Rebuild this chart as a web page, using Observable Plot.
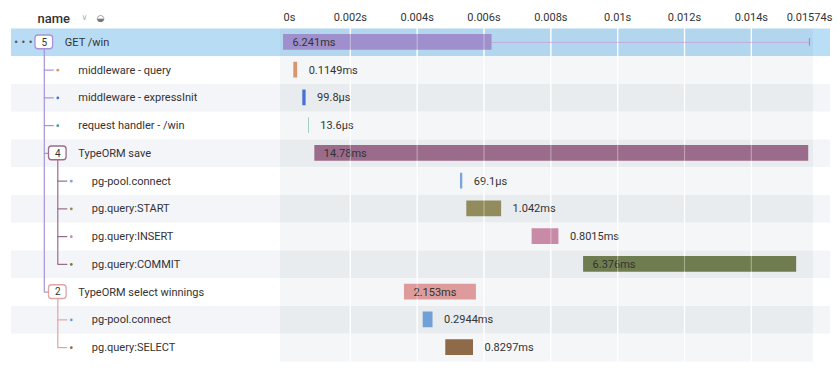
<!DOCTYPE html>
<html><head><meta charset="utf-8">
<script src="https://cdn.jsdelivr.net/npm/d3@7"></script>
<script src="https://cdn.jsdelivr.net/npm/@observablehq/plot@0.6"></script>
<style>
body{margin:0;background:#fff;}
#chart{display:flex;width:840px;height:374px;font-family:Roboto,sans-serif;}
#chart svg{display:block;flex:none;}
</style></head><body><div id="chart"></div>
<script>
// ---- data ----
const names = ["GET /win","middleware - query","middleware - expressInit","request handler - /win","TypeORM save","pg-pool.connect","pg.query:START","pg.query:INSERT","pg.query:COMMIT","TypeORM select winnings","pg-pool.connect","pg.query:SELECT"];
const depths = [0,1,1,1,1,2,2,2,2,1,2,2];
const parents = [-1,0,0,0,0,4,4,4,4,0,9,9];
const childCounts = [5,0,0,0,4,0,0,0,0,2,0,0];
const startsMs = [0,0.308,0.577,0.757,0.937,5.296,5.485,7.44,8.98,3.62,4.18,4.856];
const durationsMs = [6.241,0.1149,0.0998,0.0136,14.78,0.0691,1.042,0.8015,6.376,2.153,0.2944,0.8297];
const durationLabels = ["6.241ms","0.1149ms","99.8µs","13.6µs","14.78ms","69.1µs","1.042ms","0.8015ms","6.376ms","2.153ms","0.2944ms","0.8297ms"];
const colors = ["#9f8fcc","#d9966c","#4a73d1","#45a088","#9b6b8b","#7aa6db","#918b5e","#c98aa7","#6f7c4f","#dd9b9b","#6fa0d6","#8e6a48"];
const treeColors = ["#a892d8",null,null,null,"#9b6b8b",null,null,null,null,"#e2a4a4",null,null];
const traceEndMs = 15.74;
const tickValues = [0,2,4,6,8,10,12,14,15.74];
const tickLabels = ["0s","0.002s","0.004s","0.006s","0.008s","0.01s","0.012s","0.014s","0.01574s"];
const gridValues = [2,4,6,8,10,12,14];

// ---- derived ----
const rows = names.map((name,i)=>({id:i,name,depth:depths[i],parent:parents[i],count:childCounts[i],
  start:startsMs[i],end:startsMs[i]+durationsMs[i],dur:durationsMs[i],label:durationLabels[i],
  color:colors[i],tcolor:treeColors[i],band:i===0?0:(i%2?1:2)}));
rows.forEach(r=>{ if(r.parent>=0){ const p=rows[r.parent]; r.pdepth=p.depth; r.pcolor=p.tcolor; } });
const groups = rows.filter(r=>r.count>0);
groups.forEach(g=>{ g.last = d3.max(rows.filter(r=>r.parent===g.id), r=>r.id); });
const children = rows.filter(r=>r.parent>=0);
const leaves = rows.filter(r=>r.count===0);
const ticks = tickValues.map((v,i)=>({v,label:tickLabels[i]}));
const root = [rows[0]];

const outerFill = ["#b9dcf5","#ffffff","#f4f5f9"];
const panelFill = ["#b3d6ef","#f5f6f7","#e9ecef"];
const rightFill = ["#bbdef7","#ffffff","#f4f5f9"];

const H = 374, MT = 28, MB = 13;
const bw = (H-MT-MB)/rows.length;
const yOpt = {type:"band", domain: rows.map(r=>r.id), padding:0, round:false, axis:null};
const style = {fontFamily:"Roboto, sans-serif", fontSize:"11px", color:"#333", background:"transparent"};

const left = Plot.plot({
  width:280, height:H, marginTop:MT, marginBottom:MB, marginLeft:0, marginRight:0,
  style, x:{domain:[0,2], range:[43.8,70.8], axis:null}, y:yOpt, color:{type:"identity"},
  marks:[
    Plot.ruleY(rows,{y:"id", stroke:d=>outerFill[d.band], strokeWidth:bw, insetLeft:11}),
    Plot.text(["name"],{frameAnchor:"top-left", dx:37, dy:-15, textAnchor:"start", fontSize:13, fontWeight:500, fill:"#333"}),
    Plot.text(["∨"],{frameAnchor:"top-left", dx:81, dy:-14, fontSize:8, fill:"#aaa", fontFamily:"DejaVu Sans"}),
    Plot.text(["◒"],{frameAnchor:"top-left", dx:96, dy:-14, fontSize:9, fill:"#777", fontFamily:"DejaVu Sans"}),
    Plot.ruleX(groups,{x:"depth", y1:"id", y2:"last", stroke:"tcolor", strokeWidth:1.2, insetTop:bw/2+7, insetBottom:bw/2}),
    Plot.ruleY(children,{y:"id", x1:"pdepth", x2:"depth", stroke:"pcolor", strokeWidth:1.2, insetRight:3.5}),
    Plot.barX(groups,{x1:"depth", x2:"depth", y:"id", fill:"white", stroke:"tcolor", strokeWidth:1.3, rx:3, insetLeft:-8.8, insetRight:-8.8, insetTop:7, insetBottom:7}),
    Plot.text(groups,{x:"depth", y:"id", text:d=>String(d.count), fontSize:10, fill:"#333"}),
    Plot.dot(leaves,{x:"depth", y:"id", fill:"color", r:1.4}),
    Plot.text(root,{x:"depth", y:"id", text:()=>"• • •", dx:-21, fontSize:8, fill:"#555", fontFamily:"DejaVu Sans"}),
    Plot.text(rows,{x:"depth", y:"id", text:"name", dx:20.5, textAnchor:"start", fontSize:11, fill:"#333"})
  ]
});

const right = Plot.plot({
  width:560, height:H, marginTop:MT, marginBottom:MB, marginLeft:3, marginRight:31,
  style, x:{domain:[0,traceEndMs], axis:null}, y:yOpt, color:{type:"identity"},
  marks:[
    Plot.ruleY(rows,{y:"id", stroke:d=>panelFill[d.band], strokeWidth:bw, insetLeft:-3, insetRight:-4}),
    Plot.ruleY(rows,{y:"id", stroke:d=>rightFill[d.band], strokeWidth:bw, insetLeft:530, insetRight:-21}),
    Plot.ruleX(gridValues,{stroke:"white", strokeWidth:1.3}),
    Plot.ruleY(root,{y:"id", x1:"end", x2:()=>traceEndMs, stroke:"#c4a9df", strokeWidth:1}),
    Plot.tickX(root,{x:()=>traceEndMs, y:"id", stroke:"#a08bd4", strokeWidth:1.2, insetTop:10, insetBottom:10}),
    Plot.barX(rows,{x1:"start", x2:"end", y:"id", fill:"color", insetTop:6, insetBottom:6}),
    Plot.text(rows.filter(r=>r.dur>=1.5),{x:"start", y:"id", text:"label", dx:9, textAnchor:"start", fill:"#333", ariaLabel:"label-in"}),
    Plot.text(rows.filter(r=>r.dur<1.5),{x:"end", y:"id", text:"label", dx:11, textAnchor:"start", fill:"#333", ariaLabel:"label-out"}),
    Plot.ruleX(gridValues,{stroke:"white", strokeOpacity:0.35, strokeWidth:1.2}),
    Plot.text(ticks.slice(0,1),{x:"v", text:"label", frameAnchor:"top", dy:-15, textAnchor:"start", fill:"#333"}),
    Plot.text(ticks.slice(1),{x:"v", text:"label", frameAnchor:"top", dy:-15, textAnchor:"middle", fill:"#333"})
  ]
});

const chart = document.getElementById("chart");
chart.append(left, right);

// label background boxes
function boxes(svg, aria, opacity, h){
  svg.querySelectorAll(`g[aria-label="${aria}"] text`).forEach(t=>{
    const b = t.getBBox();
    const r = document.createElementNS("http://www.w3.org/2000/svg","rect");
    r.setAttribute("x", b.x-4); r.setAttribute("y", b.y+b.height/2-h/2);
    r.setAttribute("width", b.width+8); r.setAttribute("height", h);
    r.setAttribute("rx", 2); r.setAttribute("fill", "white"); r.setAttribute("fill-opacity", opacity);
    if (t.getAttribute("transform")) r.setAttribute("transform", t.getAttribute("transform"));
    t.parentNode.insertBefore(r, t);
  });
}
boxes(right, "label-in", 0.3, 14);
boxes(right, "label-out", 0.6, 13);
</script></body></html>
